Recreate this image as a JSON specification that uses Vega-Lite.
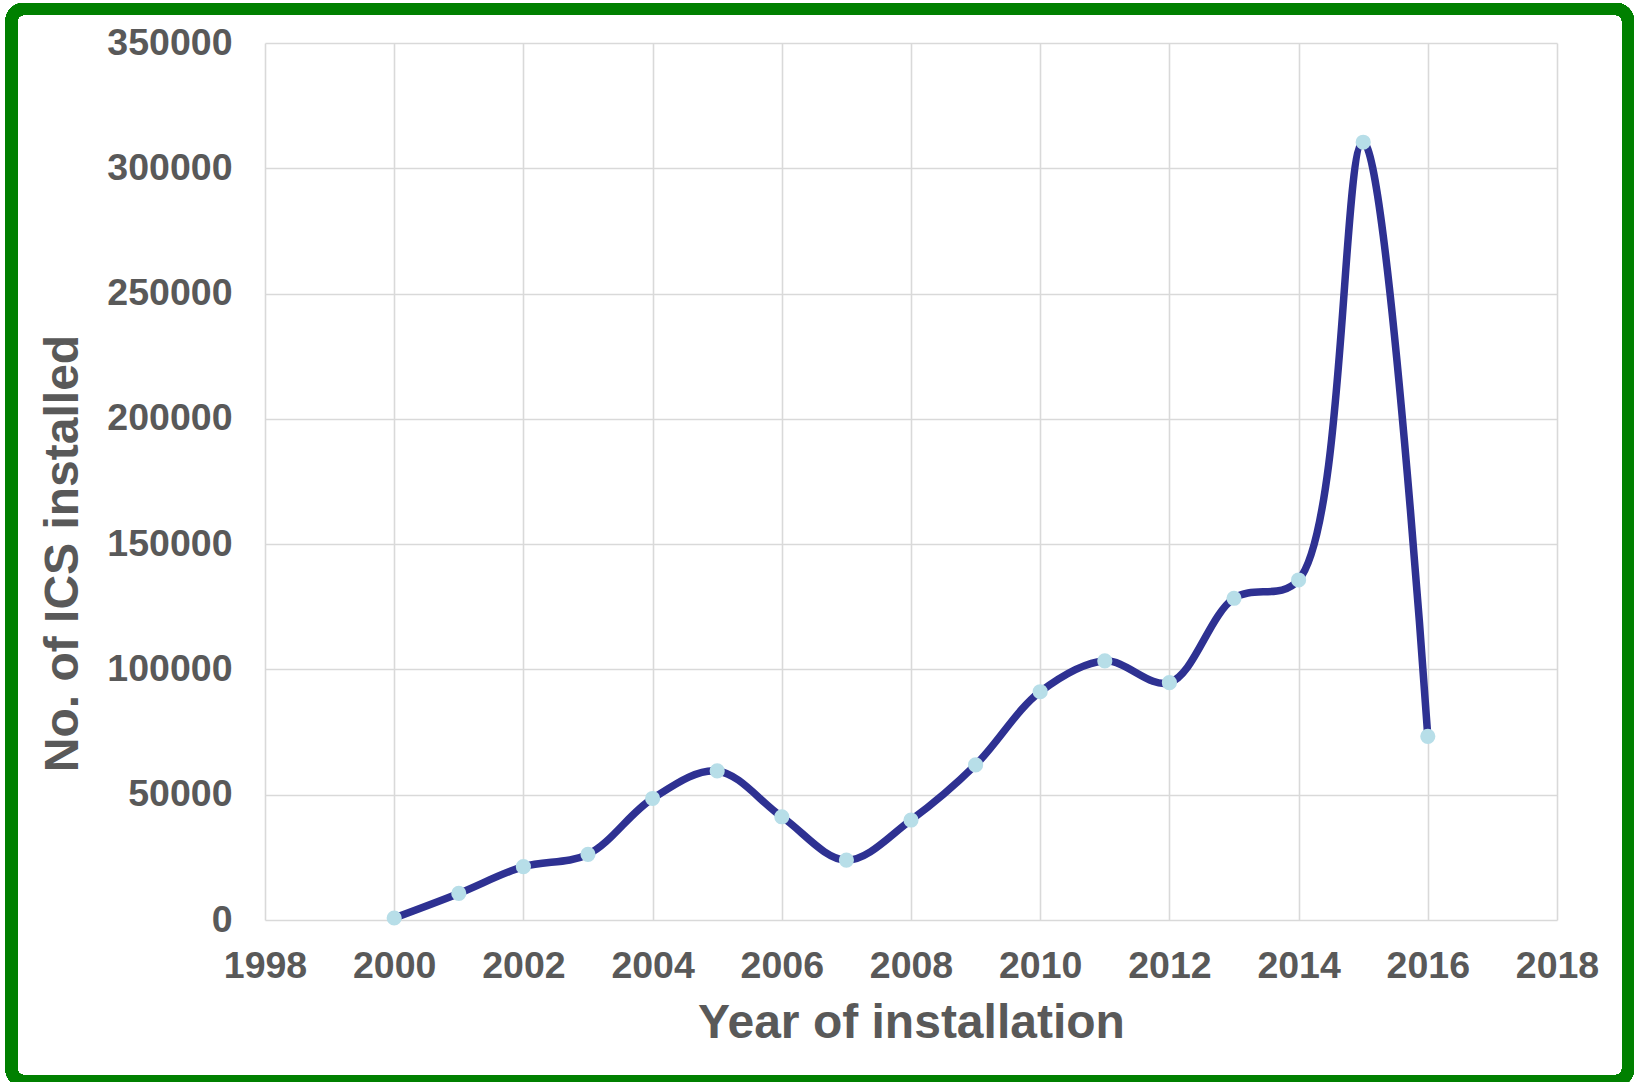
{
  "$schema": "https://vega.github.io/schema/vega-lite/v6.json",
  "width": 1292,
  "height": 877,
  "autosize": {"type": "none"},
  "padding": {"left": 265, "top": 43, "right": 78, "bottom": 162},
  "background": "white",
  "config": {
    "view": {"stroke": null},
    "font": "Liberation Sans",
    "axis": {
      "labelFont": "Liberation Sans",
      "labelFontWeight": "bold",
      "labelFontSize": 37.5,
      "labelColor": "#595959",
      "labelFlush": false,
      "labelOverlap": false,
      "labelBound": false,
      "titleFont": "Liberation Sans",
      "titleFontWeight": "bold",
      "titleFontSize": 48,
      "titleColor": "#595959",
      "ticks": false,
      "domain": false,
      "grid": true,
      "gridColor": "#d9d9d9",
      "gridWidth": 1.6
    }
  },
  "data": {
    "values": [
      {"year": 2000, "installed": 800},
      {"year": 2001, "installed": 10600},
      {"year": 2002, "installed": 21300},
      {"year": 2003, "installed": 26200},
      {"year": 2004, "installed": 48500},
      {"year": 2005, "installed": 59500},
      {"year": 2006, "installed": 41200},
      {"year": 2007, "installed": 23900},
      {"year": 2008, "installed": 39900},
      {"year": 2009, "installed": 61900},
      {"year": 2010, "installed": 91100},
      {"year": 2011, "installed": 103400},
      {"year": 2012, "installed": 94700},
      {"year": 2013, "installed": 128400},
      {"year": 2014, "installed": 135700},
      {"year": 2015, "installed": 310400},
      {"year": 2016, "installed": 73300}
    ]
  },
  "layer": [
    {
      "mark": {
        "type": "rect",
        "fillOpacity": 0,
        "stroke": "#008000",
        "strokeWidth": 12,
        "cornerRadius": 12
      },
      "encoding": {
        "x": {"value": -253.5},
        "x2": {"value": 1363},
        "y": {"value": -34},
        "y2": {"value": 1038}
      }
    },
    {
      "encoding": {
        "x": {
          "field": "year",
          "type": "quantitative",
          "scale": {"domain": [1998, 2018], "nice": false, "zero": false},
          "axis": {
            "values": [1998, 2000, 2002, 2004, 2006, 2008, 2010, 2012, 2014, 2016, 2018],
            "format": "d",
            "labelPadding": 27,
            "title": "Year of installation",
            "titlePadding": 15
          }
        },
        "y": {
          "field": "installed",
          "type": "quantitative",
          "scale": {"domain": [0, 350000], "nice": false},
          "axis": {
            "values": [0, 50000, 100000, 150000, 200000, 250000, 300000, 350000],
            "format": "d",
            "labelPadding": 33,
            "title": "No. of ICS installed",
            "titleAngle": -90,
            "titleAlign": "center",
            "titleBaseline": "alphabetic",
            "titleX": -188,
            "titleY": 510
          }
        }
      },
      "layer": [
        {
          "mark": {
            "type": "line",
            "interpolate": "catmull-rom",
            "color": "#2e3192",
            "strokeWidth": 7.5
          }
        },
        {
          "mark": {
            "type": "point",
            "filled": true,
            "shape": "circle",
            "size": 230,
            "color": "#b7dee8",
            "opacity": 1
          }
        }
      ]
    }
  ]
}
